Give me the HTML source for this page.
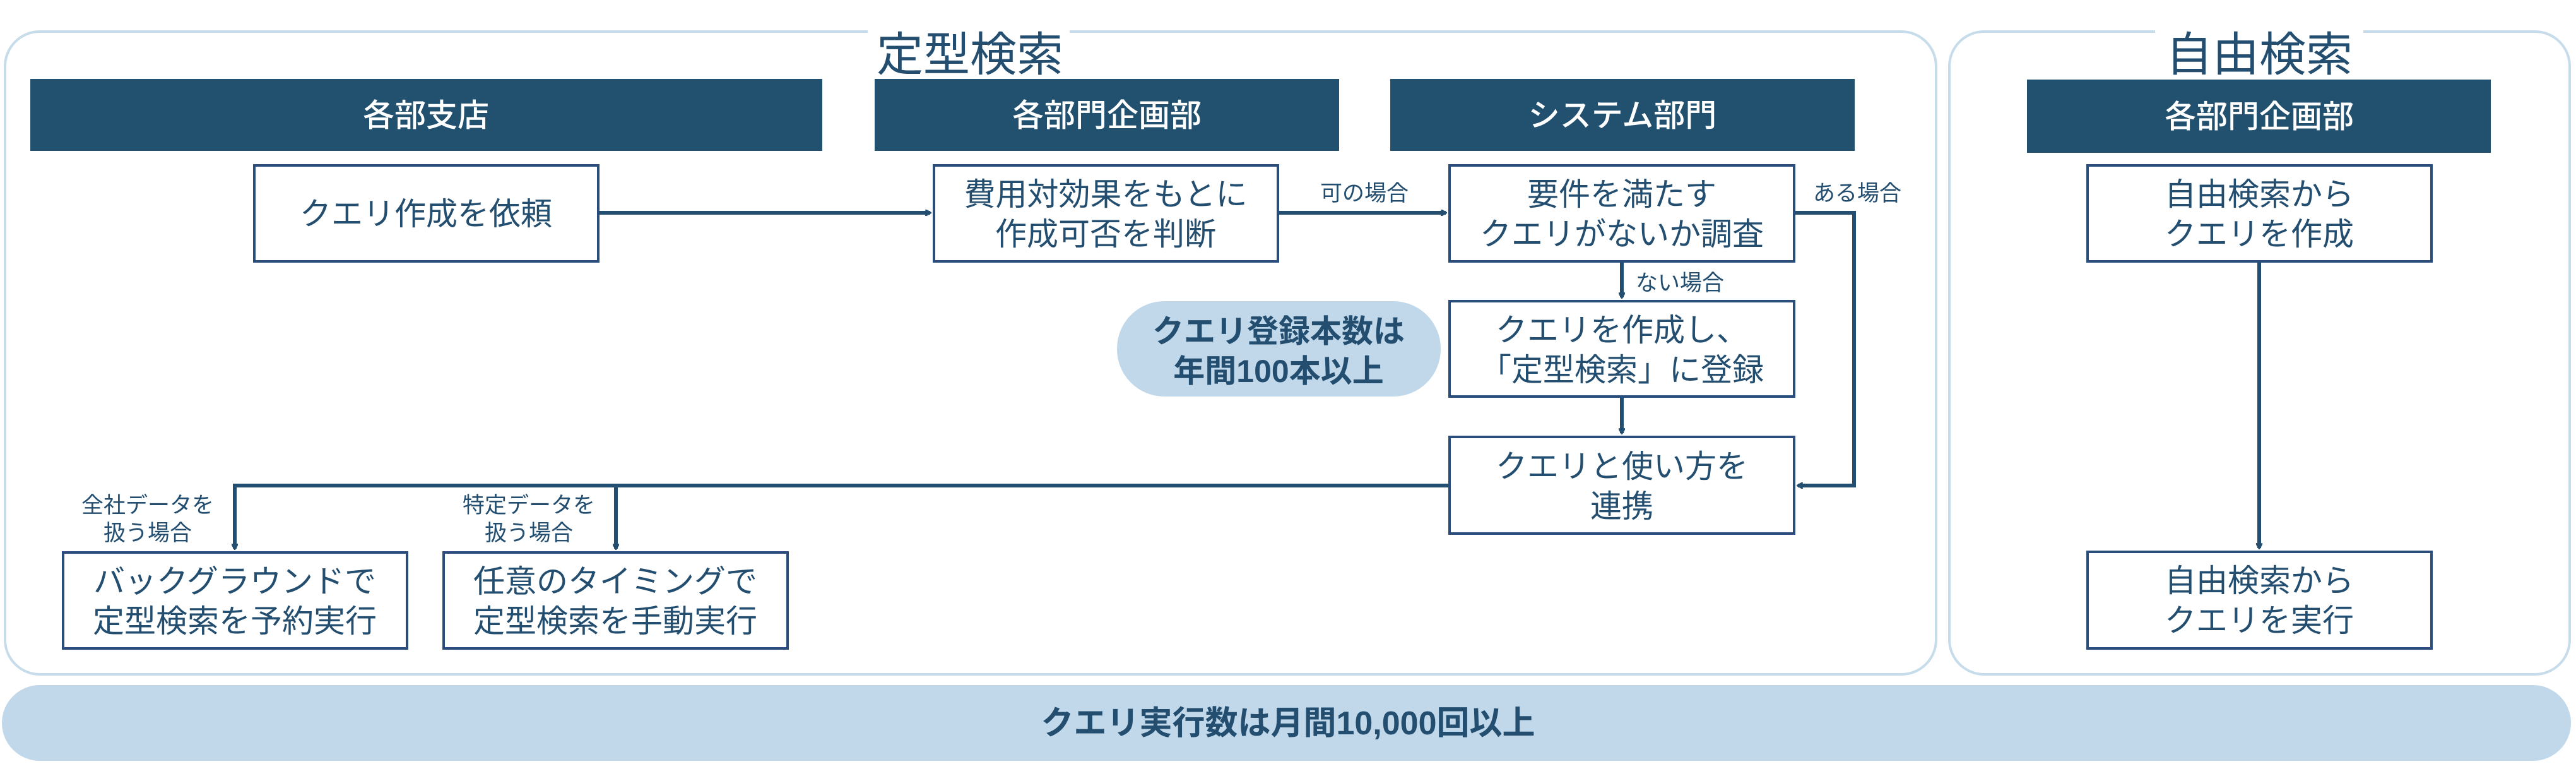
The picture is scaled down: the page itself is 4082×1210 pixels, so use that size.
<!DOCTYPE html>
<html><head><meta charset="utf-8"><style>
html,body{margin:0;padding:0;background:#fff;}
svg{display:block;}
text{font-family:"Liberation Sans","Noto Sans CJK JP",sans-serif;fill:#234e70;}
.h{fill:#fff;font-size:50px;font-weight:500;}
.b{font-size:50px;}
.l{font-size:35px;}
.bd{font-weight:700;}
</style></head><body>
<svg width="4082" height="1210" viewBox="0 0 4082 1210" xmlns="http://www.w3.org/2000/svg">
<defs>
<marker id="a" markerWidth="10" markerHeight="10" refX="8" refY="5" orient="auto" markerUnits="userSpaceOnUse" viewBox="0 0 10 10">
<path d="M0,0 L9,5 L0,10" fill="none" stroke="#234e70" stroke-width="2.5"/>
</marker>
</defs>
<!-- containers -->
<rect x="8" y="50" width="3060" height="1018" rx="55" fill="#fff" stroke="#c6dcea" stroke-width="4"/>
<rect x="3089" y="50" width="983" height="1018" rx="55" fill="#fff" stroke="#c6dcea" stroke-width="4"/>
<rect x="1375" y="30" width="320" height="40" fill="#fff"/>
<rect x="3415" y="30" width="330" height="40" fill="#fff"/>
<text x="1537" y="112" text-anchor="middle" font-size="74">定型検索</text>
<text x="3580" y="112" text-anchor="middle" font-size="74">自由検索</text>
<!-- headers -->
<rect x="48" y="125" width="1255" height="114" fill="#22506f"/>
<rect x="1386" y="125" width="736" height="114" fill="#22506f"/>
<rect x="2203" y="125" width="736" height="114" fill="#22506f"/>
<rect x="3212" y="126" width="735" height="116" fill="#22506f"/>
<text class="h" x="675" y="200" text-anchor="middle">各部支店</text>
<text class="h" x="1754" y="200" text-anchor="middle">各部門企画部</text>
<text class="h" x="2571" y="200" text-anchor="middle">システム部門</text>
<text class="h" x="3580" y="202" text-anchor="middle">各部門企画部</text>
<!-- bottom bar -->
<rect x="3" y="1085" width="4071" height="120" rx="60" fill="#c1d8ea"/>
<text class="bd" x="2041" y="1163" text-anchor="middle" font-size="52">クエリ実行数は月間10,000回以上</text>
<!-- pill -->
<rect x="1770" y="477" width="513" height="151" rx="75" fill="#c1d8ea"/>
<text class="b bd" x="2026" y="542" text-anchor="middle">クエリ登録本数は</text>
<text class="b bd" x="2026" y="605" text-anchor="middle">年間100本以上</text>
<!-- connectors -->
<g fill="none" stroke="#234e70" stroke-width="6">
<line x1="948" y1="337" x2="1474" y2="337" marker-end="url(#a)"/>
<line x1="2025" y1="337" x2="2291" y2="337" marker-end="url(#a)"/>
<line x1="2570" y1="414" x2="2570" y2="471" marker-end="url(#a)"/>
<line x1="2570" y1="628" x2="2570" y2="686" marker-end="url(#a)"/>
<polyline points="2843,337 2938,337 2938,769 2849,769" marker-end="url(#a)"/>
<polyline points="2297,769 372,769 372,869" marker-end="url(#a)"/>
<line x1="976" y1="769" x2="976" y2="869" marker-end="url(#a)"/>
<line x1="3580" y1="414" x2="3580" y2="868" marker-end="url(#a)"/>
</g>
<!-- boxes -->
<g fill="#fff" stroke="#2a4d7c" stroke-width="4">
<rect x="403" y="262" width="545" height="152"/>
<rect x="1480" y="262" width="545" height="152"/>
<rect x="2297" y="262" width="546" height="152"/>
<rect x="2297" y="477" width="546" height="151"/>
<rect x="2297" y="692" width="546" height="153"/>
<rect x="100" y="875" width="545" height="152"/>
<rect x="703" y="875" width="545" height="152"/>
<rect x="3308" y="262" width="545" height="152"/>
<rect x="3308" y="874" width="545" height="153"/>
</g>
<text class="b" x="675" y="356" text-anchor="middle">クエリ作成を依頼</text>
<text class="b" x="1752" y="325" text-anchor="middle">費用対効果をもとに</text>
<text class="b" x="1752" y="388" text-anchor="middle">作成可否を判断</text>
<text class="b" x="2570" y="325" text-anchor="middle">要件を満たす</text>
<text class="b" x="2570" y="388" text-anchor="middle">クエリがないか調査</text>
<text class="b" x="2570" y="540" text-anchor="middle">クエリを作成し、</text>
<text class="b" x="2570" y="603" text-anchor="middle">「定型検索」に登録</text>
<text class="b" x="2570" y="756" text-anchor="middle">クエリと使い方を</text>
<text class="b" x="2570" y="819" text-anchor="middle">連携</text>
<text class="b" x="372" y="938" text-anchor="middle">バックグラウンドで</text>
<text class="b" x="372" y="1001" text-anchor="middle">定型検索を予約実行</text>
<text class="b" x="975" y="938" text-anchor="middle">任意のタイミングで</text>
<text class="b" x="975" y="1001" text-anchor="middle">定型検索を手動実行</text>
<text class="b" x="3580" y="325" text-anchor="middle">自由検索から</text>
<text class="b" x="3580" y="388" text-anchor="middle">クエリを作成</text>
<text class="b" x="3580" y="937" text-anchor="middle">自由検索から</text>
<text class="b" x="3580" y="1000" text-anchor="middle">クエリを実行</text>
<!-- labels -->
<text class="l" x="2162" y="318" text-anchor="middle">可の場合</text>
<text class="l" x="2943" y="318" text-anchor="middle">ある場合</text>
<text class="l" x="2592" y="460">ない場合</text>
<text class="l" x="234" y="812" text-anchor="middle">全社データを</text>
<text class="l" x="234" y="856" text-anchor="middle">扱う場合</text>
<text class="l" x="838" y="812" text-anchor="middle">特定データを</text>
<text class="l" x="838" y="856" text-anchor="middle">扱う場合</text>
</svg>
</body></html>
